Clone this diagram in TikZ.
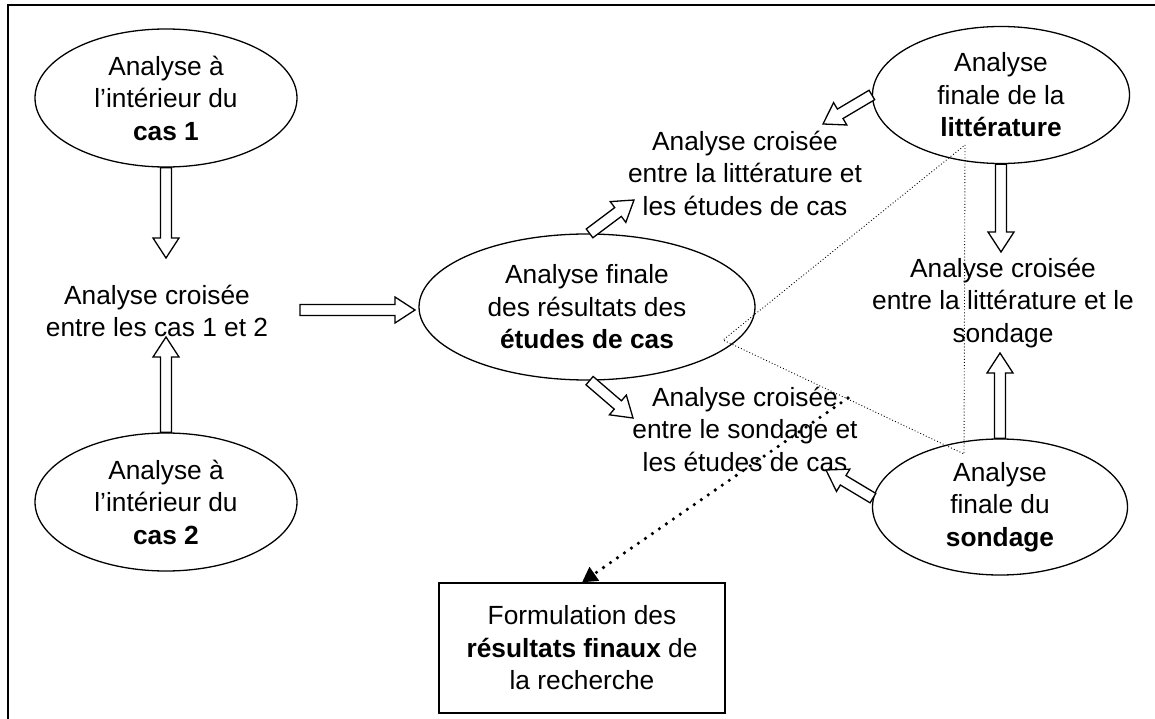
\documentclass[tikz,border=0pt]{standalone}
\usepackage{fontspec}
\setmainfont{Liberation Sans}
\usetikzlibrary{calc,arrows.meta,shapes.geometric}

% hollow block arrow from #1 (tail) to #2 (tip)
\newcommand\hollowarrow[2]{%
  \coordinate (ha-neck) at ($(#2)!20pt!(#1)$);
  \draw[hollow] ($(#1)!5.5pt!90:(#2)$) -- ($(ha-neck)!5.5pt!90:(#2)$)
    -- ($(ha-neck)!13pt!90:(#2)$) -- (#2) -- ($(ha-neck)!13pt!-90:(#2)$)
    -- ($(ha-neck)!5.5pt!-90:(#2)$) -- ($(#1)!5.5pt!-90:(#2)$) -- cycle;
}

\begin{document}
\begin{tikzpicture}[x=1pt,y=-1pt,
  every node/.style={font=\fontsize{26.3}{32.5}\selectfont, align=center},
  oval/.style={ellipse, draw, line width=1.3pt, inner sep=0pt},
  txt/.style={inner sep=0pt},
  hollow/.style={draw, fill=white, line width=1.3pt, line join=miter},
  thin dots/.style={line width=0.9pt, dash pattern=on 0.9pt off 2.2pt},
  bold dots/.style={line width=3.6pt, line cap=round, dash pattern=on 0pt off 8.5pt}
]
\clip (0,0) rectangle (1155,719);

% frame
\draw[line width=2.3pt] (8,730) -- (8,5) -- (1170,5);

% ellipses
\node[oval, minimum width=262pt, minimum height=138pt] (c1) at (166,98)
  {Analyse à\\l’intérieur du\\\textbf{cas 1}};
\node[oval, minimum width=262pt, minimum height=138pt] (c2) at (166,502)
  {Analyse à\\l’intérieur du\\\textbf{cas 2}};
\node[oval, minimum width=336pt, minimum height=146pt] (fin) at (587,307)
  {Analyse finale\\des résultats des\\\textbf{études de cas}};
\node[oval, minimum width=257pt, minimum height=137pt] (lit) at (1001,95)
  {Analyse\\finale de la\\\textbf{littérature}};
\node[oval, minimum width=255pt, minimum height=136pt] (sond) at (1000,507)
  {Analyse\\finale du\\\textbf{sondage}};

% result box
\node[draw, line width=1.3pt, minimum width=286pt, minimum height=130pt, inner sep=0pt] (res) at (582,648)
  {Formulation des\\\textbf{résultats finaux} de\\la recherche};

% cross-analysis labels
\node[txt] (x12) at (157,311) {Analyse croisée\\entre les cas 1 et 2};
\node[txt] (xlc) at (745,173) {Analyse croisée\\entre la littérature et\\les études de cas};
\node[txt] (xls) at (1003,303) {Analyse croisée\\entre la littérature et le\\sondage};
\node[txt] (xsc) at (745,429) {Analyse croisée\\entre le sondage et\\les études de cas};

% arrow ends
\coordinate (t-c1) at (166,258);
\coordinate (t-c2) at (166,337);
\coordinate (h-x12) at (300,310);
\coordinate (t-fin) at (415,310);
\coordinate (t-xlc) at (634,200);
\coordinate (t-xsc) at (633,418);
\coordinate (t-litx) at (823,124);
\coordinate (t-lits) at (1001,252);
\coordinate (t-sondl) at (1000,353);
\coordinate (t-sondx) at (826,470);

% block arrows
\hollowarrow{c1.south}{t-c1}
\hollowarrow{c2.north}{t-c2}
\hollowarrow{h-x12}{t-fin}
\hollowarrow{fin.88}{t-xlc}
\hollowarrow{fin.272}{t-xsc}
\hollowarrow{lit.180}{t-litx}
\hollowarrow{lit.south}{t-lits}
\hollowarrow{sond.north}{t-sondl}
\hollowarrow{sond.176}{t-sondx}

% dotted triangle linking the three cross analyses
\draw[thin dots] (965,145) -- (964,454) -- (723,340) -- cycle;

% dotted arrow to the final results
\coordinate (d-start) at (848,398);
\draw[bold dots, -{Triangle[length=15pt,width=16pt]}] (d-start) -- (res.north);
\end{tikzpicture}
\end{document}
